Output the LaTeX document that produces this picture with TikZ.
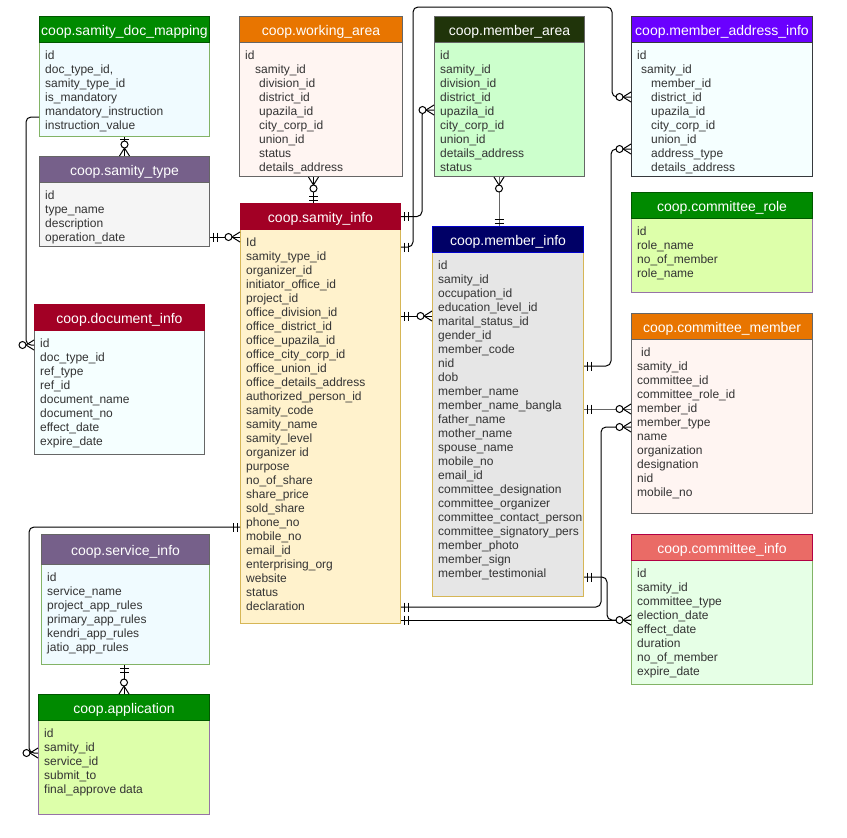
\documentclass[tikz,border=0pt]{standalone}
\usepackage{fontspec}
\setmainfont{Liberation Sans}
\usepackage{tikz}

\definecolor{hdrgreen}{HTML}{008A00}
\definecolor{greenline}{HTML}{005700}
\definecolor{hdrorange}{HTML}{E87500}
\definecolor{hdrolive}{HTML}{20340A}
\definecolor{hdrviolet}{HTML}{6A00FF}
\definecolor{hdrmauve}{HTML}{76608A}
\definecolor{hdrcrimson}{HTML}{A20025}
\definecolor{hdrnavy}{HTML}{000066}
\definecolor{navyline}{HTML}{0000CC}
\definecolor{hdrcoral}{HTML}{EA6B66}
\definecolor{coralline}{HTML}{B20044}
\definecolor{paleblue}{HTML}{F0FBFF}
\definecolor{palecyan}{HTML}{F5FFFF}
\definecolor{palepink}{HTML}{FFF5F2}
\definecolor{palemint}{HTML}{CCFFCC}
\definecolor{palegrey}{HTML}{F5F5F5}
\definecolor{palelime}{HTML}{DDFFAA}
\definecolor{palecream}{HTML}{FFF2CC}
\definecolor{midgrey}{HTML}{E6E6E6}
\definecolor{paleleaf}{HTML}{E6FFE6}
\definecolor{greenedge}{HTML}{82B366}
\definecolor{greyedge}{HTML}{666666}
\definecolor{darkedge}{HTML}{36393D}
\definecolor{purpleedge}{HTML}{9673A6}
\definecolor{goldedge}{HTML}{D6B656}
\definecolor{fieldtext}{HTML}{333333}

\tikzset{
    hdr/.style={rectangle, anchor=north west, inner sep=0, line width=1pt, text=white,
        font=\fontsize{14}{16}\selectfont, text height=11pt, text depth=0pt},
    tbody/.style={rectangle, anchor=north west, inner sep=0, line width=1pt},
    field/.style={anchor=base west, inner sep=0, text=fieldtext, font=\fontsize{12}{14}\selectfont},
    relline/.style={line width=1pt, rounded corners=5pt},
    lightline/.style={draw=greyedge},
    erline/.style={line width=1pt},
    pics/mandone/.style={code={\draw[erline] (3,-4.5) -- (3,4.5) (7,-4.5) -- (7,4.5);}},
    pics/singlebar/.style={code={\draw[erline] (2,-4.5) -- (2,4.5);}},
    pics/zeromany/.style={code={\draw[erline] (0,-5) -- (8,0) -- (0,5);
        \draw[erline, fill=white] (11.5,0) circle[radius=3.5pt];}},
}

\begin{document}
\begin{tikzpicture}[x=1pt, y=-1pt]
    \useasboundingbox (0,0) rectangle (847,838);

    % samity_doc_mapping
    \node (dmb) [tbody, fill=paleblue, draw=greenedge, minimum width=170, minimum height=94] at (39,42) {};
    \node (dmh) [hdr, fill=hdrgreen, draw=greenline, minimum width=170, minimum height=26] at (39,16) {coop.samity\_doc\_mapping};
    \foreach \f [count=\i from 0] in {id, {doc\_type\_id,}, samity\_type\_id, is\_mandatory, mandatory\_instruction, instruction\_value}
        \node (dm\i) [field] at (45,59.5+14*\i) {\f};

    % working_area
    \node (wab) [tbody, fill=palepink, draw=greyedge, minimum width=163, minimum height=134] at (239,42) {};
    \node (wah) [hdr, fill=hdrorange, draw=greyedge, minimum width=163, minimum height=26] at (239,16) {coop.working\_area};
    \foreach \f [count=\i from 0] in {id, \hspace*{10pt}samity\_id, \hspace*{14pt}division\_id, \hspace*{14pt}district\_id,
            \hspace*{14pt}upazila\_id, \hspace*{14pt}city\_corp\_id, \hspace*{14pt}union\_id, \hspace*{14pt}status, \hspace*{14pt}details\_address}
        \node (wa\i) [field] at (245,59.5+14*\i) {\f};

    % member_area
    \node (mab) [tbody, fill=palemint, draw=greyedge, minimum width=150, minimum height=134] at (434,42) {};
    \node (mah) [hdr, fill=hdrolive, draw=greyedge, minimum width=150, minimum height=26] at (434,16) {coop.member\_area};
    \foreach \f [count=\i from 0] in {id, samity\_id, division\_id, district\_id, upazila\_id, city\_corp\_id, union\_id, details\_address, status}
        \node (ma\i) [field] at (440,59.5+14*\i) {\f};

    % member_address_info
    \node (maib) [tbody, fill=palecyan, draw=darkedge, minimum width=181, minimum height=134] at (631,42) {};
    \node (maih) [hdr, fill=hdrviolet, draw=darkedge, minimum width=181, minimum height=26] at (631,16) {coop.member\_address\_info};
    \foreach \f [count=\i from 0] in {id, \hspace*{4pt}samity\_id, \hspace*{14pt}member\_id, \hspace*{14pt}district\_id, \hspace*{14pt}upazila\_id,
            \hspace*{14pt}city\_corp\_id, \hspace*{14pt}union\_id, \hspace*{14pt}address\_type, \hspace*{14pt}details\_address}
        \node (mai\i) [field] at (637,59.5+14*\i) {\f};

    % samity_type
    \node (stb) [tbody, fill=palegrey, draw=greyedge, minimum width=170, minimum height=64] at (39,182) {};
    \node (sth) [hdr, fill=hdrmauve, draw=greyedge, minimum width=170, minimum height=26] at (39,156) {coop.samity\_type};
    \foreach \f [count=\i from 0] in {id, type\_name, description, operation\_date}
        \node (st\i) [field] at (45,199.5+14*\i) {\f};

    % committee_role
    \node (crb) [tbody, fill=palelime, draw=purpleedge, minimum width=181, minimum height=74] at (631,218) {};
    \node (crh) [hdr, fill=hdrgreen, draw=greenline, minimum width=181, minimum height=26] at (631,192) {coop.committee\_role};
    \foreach \f [count=\i from 0] in {id, role\_name, no\_of\_member, role\_name}
        \node (cr\i) [field] at (637,235.5+14*\i) {\f};

    % samity_info
    \node (sib) [tbody, fill=palecream, draw=goldedge, minimum width=160, minimum height=394] at (240,229) {};
    \node (sih) [hdr, fill=hdrcrimson, draw=hdrcrimson, minimum width=160, minimum height=26] at (240,203) {coop.samity\_info};
    \foreach \f [count=\i from 0] in {Id, samity\_type\_id, organizer\_id, initiator\_office\_id, project\_id, office\_division\_id,
            office\_district\_id, office\_upazila\_id, office\_city\_corp\_id, office\_union\_id, office\_details\_address,
            authorized\_person\_id, samity\_code, samity\_name, samity\_level, organizer id, purpose, no\_of\_share,
            share\_price, sold\_share, phone\_no, mobile\_no, email\_id, enterprising\_org, website, status, declaration}
        \node (si\i) [field] at (246,246.5+14*\i) {\f};

    % member_info
    \node (mib) [tbody, fill=midgrey, draw=goldedge, minimum width=151, minimum height=344] at (432,252) {};
    \node (mih) [hdr, fill=hdrnavy, draw=navyline, minimum width=151, minimum height=26] at (432,226) {coop.member\_info};
    \foreach \f [count=\i from 0] in {id, samity\_id, occupation\_id, education\_level\_id, marital\_status\_id, gender\_id,
            member\_code, nid, dob, member\_name, member\_name\_bangla, father\_name, mother\_name, spouse\_name,
            mobile\_no, email\_id, committee\_designation, committee\_organizer, committee\_contact\_person,
            committee\_signatory\_pers, member\_photo, member\_sign, member\_testimonial}
        \node (mi\i) [field] at (438,269.5+14*\i) {\f};

    % document_info
    \node (dib) [tbody, fill=palecyan, draw=greyedge, minimum width=170, minimum height=124] at (34,330) {};
    \node (dih) [hdr, fill=hdrcrimson, draw=hdrcrimson, minimum width=170, minimum height=26] at (34,304) {coop.document\_info};
    \foreach \f [count=\i from 0] in {id, doc\_type\_id, ref\_type, ref\_id, document\_name, document\_no, effect\_date, expire\_date}
        \node (di\i) [field] at (40,347.5+14*\i) {\f};

    % committee_member
    \node (cmb) [tbody, fill=palepink, draw=greyedge, minimum width=181, minimum height=174] at (631,339) {};
    \node (cmh) [hdr, fill=hdrorange, draw=greyedge, minimum width=181, minimum height=26] at (631,313) {coop.committee\_member};
    \foreach \f [count=\i from 0] in {\hspace*{4pt}id, samity\_id, committee\_id, committee\_role\_id, member\_id, member\_type,
            name, organization, designation, nid, mobile\_no}
        \node (cm\i) [field] at (637,356.5+14*\i) {\f};

    % service_info
    \node (svb) [tbody, fill=paleblue, draw=greenedge, minimum width=168, minimum height=100] at (41,564) {};
    \node (svh) [hdr, fill=hdrmauve, draw=greyedge, minimum width=168, minimum height=30] at (41,534) {coop.service\_info};
    \foreach \f [count=\i from 0] in {id, service\_name, project\_app\_rules, primary\_app\_rules, kendri\_app\_rules, jatio\_app\_rules}
        \node (sv\i) [field] at (47,581.5+14*\i) {\f};

    % committee_info
    \node (cib) [tbody, fill=paleleaf, draw=greenedge, minimum width=181, minimum height=124] at (631,560) {};
    \node (cih) [hdr, fill=hdrcoral, draw=coralline, minimum width=181, minimum height=26] at (631,534) {coop.committee\_info};
    \foreach \f [count=\i from 0] in {id, samity\_id, committee\_type, election\_date, effect\_date, duration, no\_of\_member, expire\_date}
        \node (ci\i) [field] at (637,577.5+14*\i) {\f};

    % application
    \node (apb) [tbody, fill=palelime, draw=purpleedge, minimum width=171, minimum height=94] at (38,720) {};
    \node (aph) [hdr, fill=hdrgreen, draw=greenline, minimum width=171, minimum height=26] at (38,694) {coop.application};
    \foreach \f [count=\i from 0] in {id, samity\_id, service\_id, submit\_to, final\_approve data}
        \node (ap\i) [field] at (44,737.5+14*\i) {\f};

    % relations
    \coordinate (b1) at ([xshift=-7pt]sih.north);
    \coordinate (c1) at ([xshift=-9pt]mih.north);
    \coordinate (d1) at ([yshift=10pt]stb.south east);
    \coordinate (e1) at ([yshift=-68pt]mab.north west);
    \coordinate (f1) at ([yshift=-18pt]sib.north east);
    \coordinate (f2) at ([yshift=-55pt]maib.north west);
    \coordinate (g1) at ([yshift=-87pt]sib.north east);
    \coordinate (h1) at ([yshift=-114pt]mib.north east);
    \coordinate (h2) at ([yshift=-107pt]maib.north west);
    \coordinate (i1) at ([yshift=-157pt]mib.north east);
    \coordinate (j1) at ([yshift=-378pt]sib.north east);
    \coordinate (j2) at ([yshift=-88pt]cmb.north west);
    \coordinate (k1) at ([yshift=-391pt]sib.north east);
    \coordinate (l1) at ([yshift=-325pt]mib.north east);
    \coordinate (m1) at ([yshift=-298pt]sib.north west);
    \coordinate (m2) at ([yshift=-33pt]apb.north west);
    \coordinate (n1) at ([yshift=-75pt]dmb.north west);
    \coordinate (n2) at ([yshift=-15pt]dib.north west);

    \draw[relline] (dmb.south) -- (sth.north);
    \draw[relline] (wab.south -| b1) -- (b1);
    \draw[relline, lightline] (mab.south -| c1) -- (c1);
    \draw[relline] (d1) -- (sib.west |- d1);
    \draw[relline] (sih.east) -- ++(21,0) |- (e1);
    \draw[relline] (f1) -- ++(12,0) -- ++(0,-240) -| ([xshift=-19pt]f2) -- (f2);
    \draw[relline] (g1) -- (mib.west |- g1);
    \draw[relline] (h1) -| ([xshift=-20pt]h2) -- (h2);
    \draw[relline, lightline] (i1) -- (cmb.west |- i1);
    \draw[relline] (j1) -| ([xshift=-30pt]j2) -- (j2);
    \draw[relline] (k1) -- (cib.west |- k1);
    \draw[relline] (l1) -| ([xshift=-24pt]cib.west |- k1) -- (cib.west |- k1);
    \draw[relline] (m1) -| ([xshift=-9pt]m2) -- (m2);
    \draw[relline] (n1) -| ([xshift=-8pt]n2) -- (n2);
    \draw[relline] (svb.south -| aph.north) -- (aph.north);

    \pic[rotate=-90] at (dmb.south) {singlebar};
    \pic[rotate=90] at (sth.north) {zeromany};
    \pic[rotate=-90] at (wab.south -| b1) {zeromany};
    \pic[rotate=90] at (b1) {mandone};
    \pic[rotate=-90] at (mab.south -| c1) {zeromany};
    \pic[rotate=90] at (c1) {mandone};
    \pic at (d1) {mandone};
    \pic[rotate=180] at (sib.west |- d1) {zeromany};
    \pic at (sih.east) {mandone};
    \pic[rotate=180] at (e1) {zeromany};
    \pic at (f1) {mandone};
    \pic[rotate=180] at (f2) {zeromany};
    \pic at (g1) {mandone};
    \pic[rotate=180] at (mib.west |- g1) {zeromany};
    \pic at (h1) {mandone};
    \pic[rotate=180] at (h2) {zeromany};
    \pic at (i1) {mandone};
    \pic[rotate=180] at (cmb.west |- i1) {zeromany};
    \pic at (j1) {mandone};
    \pic[rotate=180] at (j2) {zeromany};
    \pic at (k1) {mandone};
    \pic at (l1) {mandone};
    \pic[rotate=180] at (cib.west |- k1) {zeromany};
    \pic[rotate=180] at (m1) {mandone};
    \pic[rotate=180] at (m2) {zeromany};
    \pic[rotate=180] at (n2) {zeromany};
    \pic[rotate=-90] at (svb.south -| aph.north) {mandone};
    \pic[rotate=90] at (aph.north) {zeromany};
\end{tikzpicture}
\end{document}
